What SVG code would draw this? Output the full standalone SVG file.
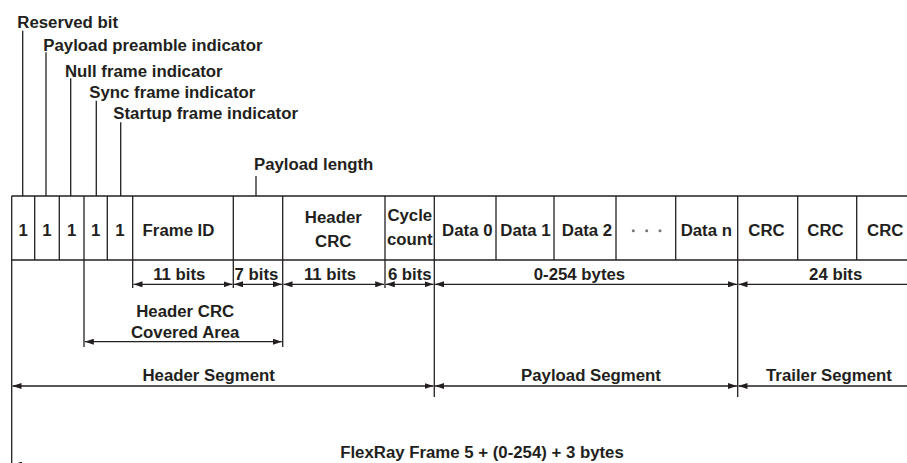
<svg xmlns="http://www.w3.org/2000/svg" width="907" height="463" viewBox="0 0 907 463">
  <defs>
    <marker id="arr" viewBox="0 0 9 6" refX="9" refY="3" markerWidth="9" markerHeight="6" markerUnits="userSpaceOnUse" orient="auto-start-reverse">
      <path d="M0,0 L9,3 L0,6 z" fill="#231f20"/>
    </marker>
  </defs>
  <style>
    text { font-family: "Liberation Sans", Arial, Helvetica, sans-serif; font-weight: bold; font-size: 16.8px; fill: #231f20; }
    .c { text-anchor: middle; }
    .ln { stroke: #231f20; stroke-width: 1.3; fill: none; }
    .dim { stroke: #231f20; stroke-width: 1.3; fill: none; marker-start: url(#arr); marker-end: url(#arr); }
    .dimL { stroke: #231f20; stroke-width: 1.3; fill: none; marker-start: url(#arr); }
    .dot { fill: #777; }
  </style>
  <rect width="907" height="463" fill="#ffffff"/>

  <!-- bit flag labels with leader lines -->
  <g id="label-reserved">
    <text x="17.3" y="27.6">Reserved bit</text>
    <line class="ln" x1="22.7" y1="30.7" x2="22.7" y2="196"/>
  </g>
  <g id="label-preamble">
    <text x="43.3" y="51.2">Payload preamble indicator</text>
    <line class="ln" x1="46" y1="52.3" x2="46" y2="196"/>
  </g>
  <g id="label-null">
    <text x="65" y="76.9">Null frame indicator</text>
    <line class="ln" x1="70.7" y1="78.3" x2="70.7" y2="196"/>
  </g>
  <g id="label-sync">
    <text x="89.3" y="97.9">Sync frame indicator</text>
    <line class="ln" x1="96.3" y1="100.7" x2="96.3" y2="196"/>
  </g>
  <g id="label-startup">
    <text x="113.3" y="119.2">Startup frame indicator</text>
    <line class="ln" x1="120.7" y1="122.3" x2="120.7" y2="196"/>
  </g>
  <g id="label-payload-length">
    <text x="254" y="170.2">Payload length</text>
    <line class="ln" x1="256" y1="176" x2="256" y2="196"/>
  </g>

  <!-- frame field cells -->
  <g id="frame-table">
    <line class="ln" x1="11.7" y1="196" x2="907" y2="196"/>
    <line class="ln" x1="11.7" y1="260" x2="907" y2="260"/>
    <line class="ln" x1="11.7" y1="196" x2="11.7" y2="260"/>
  </g>
  <g id="cell-reserved"><line class="ln" x1="34.7" y1="196" x2="34.7" y2="260"/><text class="c" x="23.2" y="235.5">1</text></g>
  <g id="cell-preamble"><line class="ln" x1="59.3" y1="196" x2="59.3" y2="260"/><text class="c" x="47" y="235.5">1</text></g>
  <g id="cell-null"><line class="ln" x1="84" y1="196" x2="84" y2="260"/><text class="c" x="71.7" y="235.5">1</text></g>
  <g id="cell-sync"><line class="ln" x1="107.3" y1="196" x2="107.3" y2="260"/><text class="c" x="95.7" y="235.5">1</text></g>
  <g id="cell-startup"><line class="ln" x1="132.7" y1="196" x2="132.7" y2="260"/><text class="c" x="120" y="235.5">1</text></g>
  <g id="cell-frame-id"><line class="ln" x1="233.3" y1="196" x2="233.3" y2="260"/><text class="c" x="178.5" y="235.5">Frame ID</text></g>
  <g id="cell-payload-length"><line class="ln" x1="282.7" y1="196" x2="282.7" y2="260"/></g>
  <g id="cell-header-crc"><line class="ln" x1="385" y1="196" x2="385" y2="260"/><text class="c" x="333.3" y="223.4">Header</text><text class="c" x="333.3" y="246.8">CRC</text></g>
  <g id="cell-cycle-count"><line class="ln" x1="434.3" y1="196" x2="434.3" y2="260"/><text class="c" x="409.8" y="221.3">Cycle</text><text class="c" x="409.8" y="245">count</text></g>
  <g id="cell-data0"><line class="ln" x1="496" y1="196" x2="496" y2="260"/><text class="c" x="467.3" y="235.7">Data 0</text></g>
  <g id="cell-data1"><line class="ln" x1="554" y1="196" x2="554" y2="260"/><text class="c" x="525.5" y="235.7">Data 1</text></g>
  <g id="cell-data2"><line class="ln" x1="616" y1="196" x2="616" y2="260"/><text class="c" x="587" y="235.7">Data 2</text></g>
  <g id="cell-ellipsis"><line class="ln" x1="675.7" y1="196" x2="675.7" y2="260"/>
    <circle class="dot" cx="633.3" cy="230.7" r="1.5"/><circle class="dot" cx="646.7" cy="230.7" r="1.5"/><circle class="dot" cx="660" cy="230.7" r="1.5"/></g>
  <g id="cell-datan"><line class="ln" x1="737.7" y1="196" x2="737.7" y2="260"/><text class="c" x="706.3" y="235.7">Data n</text></g>
  <g id="cell-crc1"><line class="ln" x1="797.7" y1="196" x2="797.7" y2="260"/><text class="c" x="766.5" y="235.7">CRC</text></g>
  <g id="cell-crc2"><line class="ln" x1="856.7" y1="196" x2="856.7" y2="260"/><text class="c" x="825.5" y="235.7">CRC</text></g>
  <g id="cell-crc3"><text class="c" x="885.3" y="235.7">CRC</text></g>

  <!-- extension lines and dimension arrows -->
  <g id="connectors">
    <line class="ln" x1="11.7" y1="260" x2="11.7" y2="463"/>
    <line class="ln" x1="84" y1="260" x2="84" y2="347"/>
    <line class="ln" x1="132.7" y1="260" x2="132.7" y2="288"/>
    <line class="ln" x1="233.3" y1="260" x2="233.3" y2="288"/>
    <line class="ln" x1="282.7" y1="260" x2="282.7" y2="347"/>
    <line class="ln" x1="385" y1="260" x2="385" y2="288"/>
    <line class="ln" x1="434.3" y1="260" x2="434.3" y2="397"/>
    <line class="ln" x1="737.7" y1="260" x2="737.7" y2="397"/>

    <line class="dim" x1="133.5" y1="284.3" x2="232.5" y2="284.3"/>
    <line class="dim" x1="234.1" y1="284.3" x2="281.9" y2="284.3"/>
    <line class="dim" x1="283.5" y1="284.3" x2="384.2" y2="284.3"/>
    <line class="dim" x1="385.8" y1="284.3" x2="433.5" y2="284.3"/>
    <line class="dim" x1="435.1" y1="284.3" x2="736.9" y2="284.3"/>
    <line class="dimL" x1="738.5" y1="284.3" x2="910" y2="284.3"/>

    <line class="dim" x1="84.8" y1="341.7" x2="281.9" y2="341.7"/>

    <line class="dim" x1="12.5" y1="386" x2="433.5" y2="386"/>
    <line class="dim" x1="435.1" y1="386" x2="736.9" y2="386"/>
    <line class="dimL" x1="738.5" y1="386" x2="910" y2="386"/>

    <line class="dimL" x1="13" y1="464.5" x2="910" y2="464.5"/>
  </g>

  <!-- dimension labels -->
  <g id="dim-labels">
    <text class="c" x="179.3" y="279.6">11 bits</text>
    <text class="c" x="256.5" y="279.6">7 bits</text>
    <text class="c" x="330" y="279.6">11 bits</text>
    <text class="c" x="409.8" y="279.6">6 bits</text>
    <text class="c" x="579.5" y="279.6">0-254 bytes</text>
    <text class="c" x="835.7" y="279.6">24 bits</text>
    <text class="c" x="185.2" y="316.8">Header CRC</text>
    <text class="c" x="185.2" y="337.6">Covered Area</text>
    <text class="c" x="208.7" y="381">Header Segment</text>
    <text class="c" x="591" y="381">Payload Segment</text>
    <text class="c" x="829" y="381">Trailer Segment</text>
    <text class="c" x="482" y="458.4">FlexRay Frame 5 + (0-254) + 3 bytes</text>
  </g>
</svg>
